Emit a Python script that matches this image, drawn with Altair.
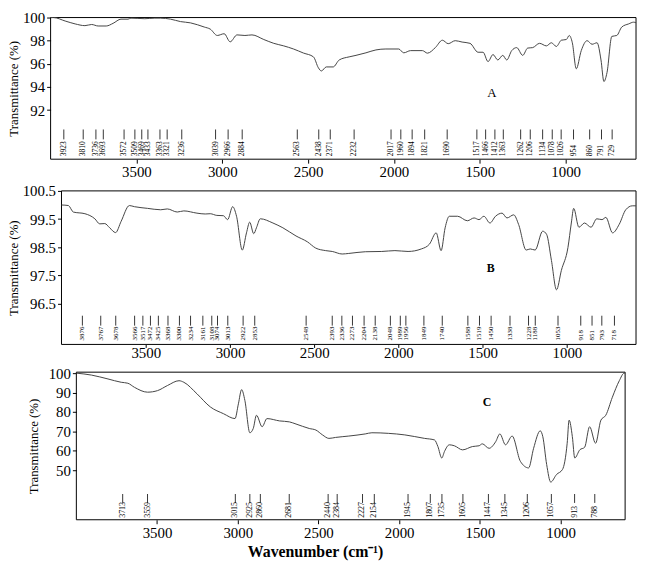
import altair as alt
import pandas as pd

# ---------------- data ----------------
A_wn = [4000, 3983, 3915, 3857, 3800, 3761, 3723, 3676, 3636, 3590,
        3549, 3532, 3451, 3393, 3359, 3301, 3243, 3185, 3105, 3070,
        3029, 2989, 2954, 2914, 2868, 2827, 2758, 2700, 2642, 2585,
        2527, 2469, 2440, 2423, 2394, 2354, 2319, 2261, 2221, 2163,
        2105, 2047, 1972, 1943, 1903, 1834, 1805, 1759, 1718, 1684,
        1643, 1603, 1557, 1510, 1481, 1452, 1423, 1395, 1366, 1343,
        1314, 1285, 1250, 1221, 1192, 1152, 1112, 1083, 1054, 1025,
        996, 979, 961, 938, 909, 875, 846, 817, 794, 777,
        759, 731, 702, 673, 633, 604, 590]
A_tr = [100.0, 100.0, 99.7, 99.45, 99.3, 99.4, 99.27, 99.27, 99.5, 99.86,
        99.86, 99.95, 99.9, 99.95, 99.95, 99.86, 99.65, 99.54, 99.18, 99.0,
        98.45, 98.6, 97.9, 98.5, 98.45, 98.5, 98.1, 97.77, 97.55, 97.28,
        96.93, 96.6, 95.65, 95.38, 95.73, 95.73, 96.33, 96.6, 96.73, 96.95,
        97.2, 97.28, 97.28, 96.95, 97.14, 97.14, 96.92, 97.4, 98.04, 97.74,
        98.0, 97.88, 97.77, 97.0, 97.0, 96.19, 96.8, 96.33, 96.73, 96.33,
        97.14, 97.4, 96.73, 97.36, 97.4, 97.77, 97.55, 97.82, 97.5, 98.04,
        98.1, 98.45, 97.82, 95.57, 97.14, 98.0, 97.69, 97.82, 96.33, 94.47,
        95.24, 98.37, 98.45, 99.18, 99.45, 99.6, 99.55]

B_wn = [4000, 3959, 3930, 3861, 3802, 3773, 3743, 3714, 3679, 3646,
        3597, 3567, 3489, 3411, 3372, 3313, 3274, 3196, 3147, 3117,
        3078, 3039, 3014, 2984, 2961, 2927, 2902, 2883, 2859, 2843,
        2820, 2745, 2686, 2608, 2540, 2491, 2432, 2393, 2334, 2295,
        2197, 2099, 2021, 1943, 1864, 1816, 1776, 1747, 1723, 1698,
        1649, 1591, 1551, 1522, 1493, 1457, 1424, 1385, 1356, 1316,
        1287, 1242, 1218, 1189, 1144, 1121, 1092, 1062, 1033, 994,
        974, 960, 929, 896, 857, 823, 792, 769, 729, 690,
        651, 612, 590]
B_tr = [100.0, 99.98, 99.75, 99.69, 99.51, 99.33, 99.34, 99.19, 99.02, 99.42,
        99.98, 99.94, 99.88, 99.83, 99.86, 99.75, 99.79, 99.71, 99.68, 99.69,
        99.63, 99.62, 99.48, 99.94, 99.6, 98.4, 99.01, 99.39, 98.98, 99.19,
        99.51, 99.36, 99.19, 98.9, 98.69, 98.47, 98.38, 98.35, 98.26, 98.28,
        98.34, 98.35, 98.38, 98.35, 98.44, 98.61, 99.01, 98.38, 99.19, 99.6,
        99.6, 99.44, 99.54, 99.48, 99.6, 99.36, 99.6, 99.71, 99.54, 99.65,
        99.31, 98.4, 98.44, 98.4, 99.07, 98.96, 98.03, 96.99, 97.68, 98.49,
        99.36, 99.88, 99.21, 99.36, 99.21, 99.51, 99.48, 99.56, 99.01, 99.31,
        99.83, 99.97, 99.97]

C_wn = [4000, 3906, 3804, 3722, 3681, 3640, 3559, 3497, 3436, 3364,
        3334, 3252, 3170, 3088, 3017, 2996, 2976, 2956, 2925, 2904,
        2884, 2849, 2819, 2741, 2680, 2639, 2557, 2516, 2475, 2435,
        2394, 2312, 2210, 2169, 2067, 1965, 1842, 1781, 1760, 1736,
        1719, 1689, 1658, 1607, 1546, 1505, 1485, 1443, 1402, 1376,
        1341, 1300, 1249, 1198, 1167, 1126, 1110, 1086, 1061, 1025,
        988, 959, 947, 927, 912, 881, 851, 820, 783, 750,
        720, 679, 636, 606, 600]
C_tr = [100, 99, 97, 95.3, 94.8, 92.7, 90.2, 91, 93.6, 96.1,
        95.3, 89.3, 82.6, 79.1, 76.6, 84.2, 91.5, 86, 69.3, 71.5,
        78.3, 72.4, 76.6, 75.4, 74.9, 73.8, 71.5, 70.7, 68.2, 66.4,
        66.9, 67.6, 68.7, 69.3, 69, 68.2, 66.4, 65.6, 62.2, 56.3,
        59.7, 63.1, 62.6, 60.5, 62.2, 62.6, 63.6, 61.3, 64.7, 68.7,
        63.1, 67.6, 54.6, 51.2, 61.3, 70.3, 67.3, 52.9, 43.9, 47.8,
        50.4, 63.9, 75.8, 67.3, 56.3, 60.5, 61.8, 72.4, 63.9, 75.8,
        78.3, 87.6, 96.1, 100, 100]

A_peaks = [3923, 3810, 3736, 3693, 3572, 3509, 3469, 3433, 3363, 3321, 3236,
           3039, 2966, 2884, 2563, 2438, 2371, 2232, 2017, 1960, 1894, 1821,
           1690, 1517, 1466, 1412, 1363, 1262, 1206, 1134, 1078, 1026, 954,
           860, 791, 729]
B_peaks = [3876, 3767, 3678, 3566, 3517, 3472, 3425, 3368, 3300, 3234, 3161,
           3108, 3074, 3013, 2922, 2853, 2548, 2393, 2336, 2273, 2204, 2138,
           2048, 1989, 1956, 1849, 1740, 1588, 1519, 1450, 1338, 1228, 1188,
           1053, 918, 851, 793, 718]
C_peaks = [3713, 3559, 3015, 2925, 2860, 2681, 2440, 2384, 2227, 2154, 1945,
           1807, 1735, 1605, 1447, 1345, 1206, 1057, 913, 788]

X_TICKS = [3500, 3000, 2500, 2000, 1500, 1000]
A_YTICKS = [92, 94, 96, 98, 100]
B_YTICKS = [96.5, 97.5, 98.5, 99.5, 100.5]
C_YTICKS = [50, 60, 70, 80, 90, 100]

FONT = "Liberation Serif"
W = 591


def panel(wn, tr, peaks, xdom, xrange, ydom, yticks, yfmt, height, yoff,
          title_x, letter, letter_pos, letter_size, letter_weight,
          lab_size, lab_bottom, line_top, line_bottom,
          x_tick, x_pad, x_title=None):
    xs = alt.Scale(domain=xdom, range=xrange, nice=False, zero=False)
    ys = alt.Scale(domain=ydom, nice=False, zero=False)
    xaxis_kw = dict(values=X_TICKS, format="d", labelFont=FONT, labelFontSize=15,
                    labelColor="black", tickColor="black", tickSize=x_tick,
                    labelPadding=x_pad, domain=False, grid=False)
    if x_title:
        xaxis_kw.update(title=x_title, titleFont=FONT, titleFontSize=16,
                        titleFontWeight="bold", titleColor="black",
                        titleX=267, titleY=32, titleBaseline="middle",
                        titleAlign="center")
    else:
        xaxis_kw.update(title=None)
    xaxis = alt.Axis(**xaxis_kw)
    yaxis = alt.Axis(values=yticks, format=yfmt, labelFont=FONT, labelFontSize=15,
                     labelColor="black", tickColor="black", tickSize=4,
                     labelPadding=2, domain=False, grid=False, offset=yoff,
                     title="Transmittance (%)", titleFont=FONT, titleFontSize=13,
                     titleFontWeight="normal", titleColor="black",
                     titleX=title_x, titleY=height / 2, titleAngle=270,
                     titleBaseline="middle", titleAlign="center")

    df = pd.DataFrame({"wn": wn, "tr": tr})
    pk = pd.DataFrame({"wn": peaks, "lab": [str(p) for p in peaks]})
    one = pd.DataFrame({"k": [0]})

    line = alt.Chart(df).mark_line(color="#444444", strokeWidth=1,
                                   interpolate="monotone").encode(
        x=alt.X("wn:Q", scale=xs, axis=xaxis),
        y=alt.Y("tr:Q", scale=ys, axis=yaxis),
    )
    frame = alt.Chart(one).mark_rect(fillOpacity=0, stroke="black",
                                     strokeWidth=1).encode(
        x=alt.XDatum(xdom[0], type="quantitative", scale=xs, axis=xaxis),
        x2=alt.datum(xdom[1]),
        y=alt.YDatum(ydom[1], type="quantitative", scale=ys, axis=yaxis),
        y2=alt.datum(ydom[0]),
    )
    rules = alt.Chart(pk).mark_rule(color="black", strokeWidth=0.8).encode(
        x=alt.X("wn:Q", scale=xs, axis=xaxis),
        y=alt.value(line_top),
        y2=alt.value(line_bottom),
    )
    labels = alt.Chart(pk).mark_text(angle=270, align="left", baseline="middle",
                                     font=FONT, fontSize=lab_size,
                                     color="black").encode(
        x=alt.X("wn:Q", scale=xs, axis=xaxis),
        y=alt.value(lab_bottom),
        text="lab:N",
    )
    let = alt.Chart(one).mark_text(text=letter, font=FONT, fontSize=letter_size,
                                   fontWeight=letter_weight,
                                   color="black").encode(
        x=alt.XDatum(letter_pos[0], type="quantitative", scale=xs, axis=xaxis),
        y=alt.YDatum(letter_pos[1], type="quantitative", scale=ys, axis=yaxis),
    )
    return alt.layer(frame, line, rules, labels, let).properties(
        width=W, height=height)


HA, HB, HC = 143, 155, 149

pA = panel(A_wn, A_tr, A_peaks, [4000, 590], [0, W], [87.75, 100], A_YTICKS, "d",
           HA, 0, -37, "A", (1430, 93.5), 13, "normal",
           7.5, HA - 3, HA - 20, HA - 30, 4, 1)
pB = panel(B_wn, B_tr, B_peaks, [4000, 590], [11, W], [95.05, 100.5], B_YTICKS, ".1f",
           HB, -11, -48, "B", (1452, 97.75), 12, "bold",
           7, HB - 4, HB - 19, HB - 29, 3, -2)
pC = panel(C_wn, C_tr, C_peaks, [4000, 600], [26, 580], [24.5, 100.5], C_YTICKS, "d",
           HC, -26, -43, "C", (1456, 85), 12, "bold",
           8, HC - 2, HC - 17, HC - 26, 4, 2,
           x_title="Wavenumber (cm\u207b\u00b9)")

chart = alt.vconcat(pA, pB, pC, spacing=5).properties(
    padding=0
).configure_view(strokeWidth=0)

chart.save("out.html", embed_options={"renderer": "svg", "actions": False})
